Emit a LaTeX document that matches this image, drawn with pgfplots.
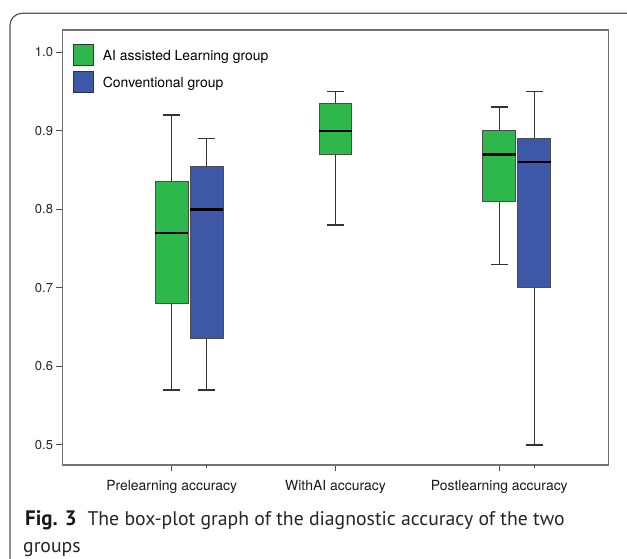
\documentclass[border=0pt]{standalone}
\usepackage{fontspec}
\setmainfont{TeX Gyre Heros}
\newfontfamily\capfont{PT Sans}
\usepackage{pgfplots}
\pgfplotsset{compat=1.18}
\usepgfplotslibrary{statistics}
\definecolor{agreen}{RGB}{46,184,76}
\definecolor{cblue}{RGB}{62,88,168}
\definecolor{framec}{RGB}{90,90,90}
\begin{document}
\begin{tikzpicture}
\useasboundingbox (0,0) rectangle (627bp,559bp);
\fill[white] (0,0) rectangle (627bp,559bp);
\draw[framec, line width=1.2bp, rounded corners=12bp] (10bp,-30bp) rectangle (660bp,545.7bp);
\begin{axis}[
  at={(62.7bp,94bp)}, anchor=south west,
  scale only axis, width=545.6bp, height=435bp,
  xmin=-0.665, xmax=2.665, ymin=0.4745, ymax=1.0284,
  axis line style={draw=black!55, line width=1.2bp},
  tick align=outside, tick pos=left,
  tick style={draw=black!70, line width=1bp},
  major tick length=6.5bp,
  /pgf/number format/assume math mode=true,
  ytick={0.5,0.6,0.7,0.8,0.9,1.0},
  yticklabel style={/pgf/number format/.cd, fixed, fixed zerofill, precision=1, /tikz/.cd,
    font=\fontsize{13}{15}\selectfont, text=black!85, inner sep=0pt, xshift=-3bp},
  xtick={0,1,2},
  xticklabels={Prelearning accuracy, WithAI accuracy, Postlearning accuracy},
  xticklabel style={font=\fontsize{14}{16}\selectfont, text=black!90, inner sep=0pt,
    text height=10bp, text depth=3bp, yshift=-8.5bp},
  extra x ticks={0.2134,2.2134},
  extra x tick labels={},
  extra x tick style={major tick length=3bp},
  legend cell align=left,
  legend style={at={(0.0187,0.968)}, anchor=north west, draw=none, fill=none,
    inner sep=0pt, row sep=5.5bp, column sep=9bp,
    nodes={inner sep=0pt, text height=10bp, text depth=3bp, font=\fontsize{14}{16}\selectfont}},
  boxplot/draw direction=y,
  every axis plot/.append style={line width=1.6bp, draw=black!80},
  boxplot/every median/.style={draw=black, line width=2.4bp},
  boxplot/every box/.style={draw=black!70, line width=1bp},
]
\addlegendimage{legend image code/.code={\draw[fill=agreen, draw=black!80, line width=0.8bp] (0bp,-8.5bp) rectangle (20bp,12.2bp);}}
\addlegendentry{AI assisted Learning group}
\addlegendimage{legend image code/.code={\draw[fill=cblue, draw=black!80, line width=0.8bp] (0bp,-8.5bp) rectangle (20bp,12.2bp);}}
\addlegendentry{Conventional group}

% Prelearning
\addplot[forget plot, fill=agreen, draw=black!80, line width=1.6bp, boxplot prepared={draw position=0,
  lower whisker=0.57, lower quartile=0.68, median=0.77, upper quartile=0.835, upper whisker=0.92,
  box extend=0.2, whisker extend=0.1}] coordinates {};
\addplot[forget plot, fill=cblue, draw=black!80, line width=1.6bp, boxplot prepared={draw position=0.2134,
  lower whisker=0.57, lower quartile=0.635, median=0.80, upper quartile=0.855, upper whisker=0.89,
  box extend=0.2, whisker extend=0.1}] coordinates {};
% WithAI
\addplot[forget plot, fill=agreen, draw=black!80, line width=1.6bp, boxplot prepared={draw position=1,
  lower whisker=0.78, lower quartile=0.87, median=0.90, upper quartile=0.935, upper whisker=0.95,
  box extend=0.2, whisker extend=0.1}] coordinates {};
% Postlearning
\addplot[forget plot, fill=agreen, draw=black!80, line width=1.6bp, boxplot prepared={draw position=2,
  lower whisker=0.73, lower quartile=0.81, median=0.87, upper quartile=0.90, upper whisker=0.93,
  box extend=0.2, whisker extend=0.1}] coordinates {};
\addplot[forget plot, fill=cblue, draw=black!80, line width=1.6bp, boxplot prepared={draw position=2.2134,
  lower whisker=0.50, lower quartile=0.70, median=0.86, upper quartile=0.89, upper whisker=0.95,
  box extend=0.2, whisker extend=0.1}] coordinates {};
\end{axis}
\node[anchor=base west, inner sep=0pt, font=\capfont\fontsize{21}{22}\selectfont\bfseries, text=black!90] at (25bp,34bp) {Fig. 3};
\node[anchor=base west, inner sep=0pt, font=\capfont\fontsize{19.8}{22}\selectfont, text=black!85] at (87.3bp,34bp) {The box-plot graph of the diagnostic accuracy of the two};
\node[anchor=base west, inner sep=0pt, font=\capfont\fontsize{19.8}{22}\selectfont, text=black!85] at (23bp,7bp) {groups};
\end{tikzpicture}
\end{document}
